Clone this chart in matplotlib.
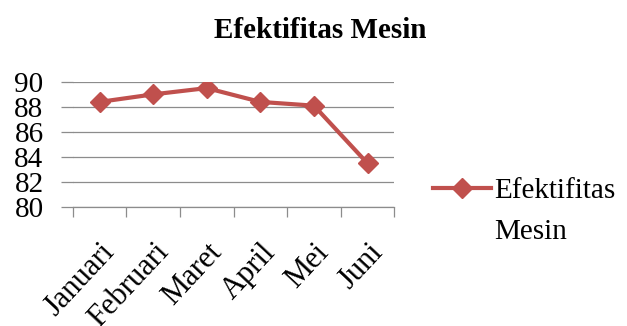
import matplotlib
matplotlib.use("Agg")
import matplotlib.pyplot as plt

# data
bulan = ["Januari", "Februari", "Maret", "April", "Mei", "Juni"]
efektifitas = [88.4, 89.0, 89.5, 88.4, 88.1, 83.5]
y_ticks = [80, 82, 84, 86, 88, 90]

plt.rcParams['font.family'] = ['Liberation Serif', 'DejaVu Serif']

fig = plt.figure(figsize=(6.27, 3.26), dpi=100)
ax = fig.add_axes([0.116, 0.364, 0.513, 0.385])

x = list(range(len(bulan)))
line, = ax.plot(x, efektifitas, color='#C0504D', linewidth=3, marker='D',
                markersize=10)

ax.set_xlim(-0.5, len(bulan) - 0.5)
ax.set_ylim(80, 90)
ax.set_yticks(y_ticks)
ax.set_yticklabels([str(v) for v in y_ticks], fontsize=21)
ax.yaxis.grid(True, color='#8c8c8c', linewidth=0.9)
ax.set_axisbelow(True)

# categories at centres, ticks at boundaries
ax.set_xticks(x)
ax.set_xticklabels(bulan, rotation=47, ha='right', rotation_mode='anchor', fontsize=22)
ax.set_xticks([i - 0.5 for i in range(len(bulan) + 1)], minor=True)
ax.tick_params(axis='x', which='major', length=0, pad=22)
ax.tick_params(axis='x', which='minor', length=7, color='#8c8c8c', width=0.9)
ax.tick_params(axis='y', length=9, color='#8c8c8c', width=0.9, pad=12)

for s in ['top', 'right', 'left']:
    ax.spines[s].set_visible(False)
ax.spines['bottom'].set_color('#8c8c8c')
ax.spines['bottom'].set_linewidth(0.9)

fig.text(0.51, 0.905, 'Efektifitas Mesin', ha='center', va='center',
         fontsize=21, fontweight='bold')

# legend: marker on the first line, second word below
leg = fig.legend(handles=[line], labels=['Efektifitas'], loc='center left',
                 bbox_to_anchor=(0.69, 0.415), frameon=False, fontsize=21,
                 handlelength=2.0, handletextpad=0.1, borderpad=0,
                 borderaxespad=0)
fig.canvas.draw()
bb = leg.get_texts()[0].get_window_extent().transformed(fig.transFigure.inverted())
fig.text(bb.x0, bb.y0 - 0.125, 'Mesin', fontsize=21, ha='left', va='bottom')

fig.savefig('out.png', dpi=100)
